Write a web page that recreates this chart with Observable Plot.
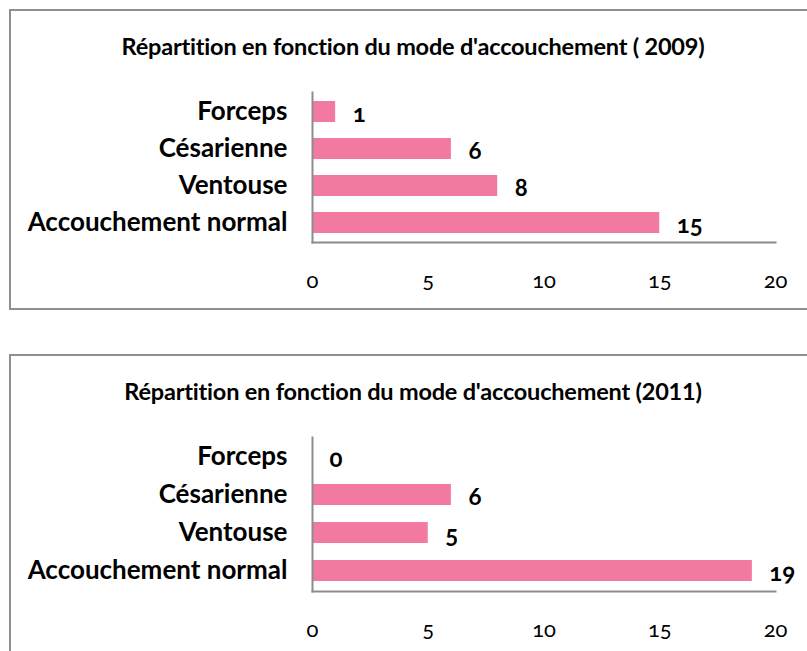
<!DOCTYPE html>
<html>
<head>
<meta charset="utf-8">
<script src="https://cdn.jsdelivr.net/npm/d3@7"></script>
<script src="https://cdn.jsdelivr.net/npm/@observablehq/plot@0.6"></script>
<style>
  html, body { margin: 0; padding: 0; background: #fff; }
  #page { position: relative; width: 807px; height: 651px; overflow: hidden; background: #fff; font-family: Lato, "Open Sans", sans-serif; }
  .box { position: absolute; left: 9px; width: 810px; border: 2px solid #8f8f8f; border-right: none; box-sizing: border-box; }
  .title { position: absolute; white-space: nowrap; transform: translateX(-50%); font-weight: bold; font-size: 23.5px; line-height: 24px; color: #000; letter-spacing: -0.2px; }
  .chart { position: absolute; left: 0; }
</style>
</head>
<body>
<div id="page"></div>
<script>
const categories = ["Forceps", "Césarienne", "Ventouse", "Accouchement normal"];
const values2009 = [1, 6, 8, 15];
const values2011 = [0, 6, 5, 19];
const xTicks = [0, 5, 10, 15, 20];
const titles = [
  "Répartition en fonction du mode d'accouchement ( 2009)",
  "Répartition en fonction du mode d'accouchement (2011)"
];

const barColor = "#f279a0";
const axisColor = "#8c8c8c";

const charts = [
  {title: titles[0], values: values2009, boxTop: 9, boxHeight: 301, titleTop: 34, svgTop: 60, height: 250, marginTop: 32, marginBottom: 68},
  {title: titles[1], values: values2011, boxTop: 354, boxHeight: 310, titleTop: 379, svgTop: 405, height: 246, marginTop: 32, marginBottom: 60}
];

const page = document.getElementById("page");

for (const c of charts) {
  const box = document.createElement("div");
  box.className = "box";
  box.style.top = c.boxTop + "px";
  box.style.height = c.boxHeight + "px";
  page.appendChild(box);

  const t = document.createElement("div");
  t.className = "title";
  t.style.left = "413px";
  t.style.top = c.titleTop + "px";
  t.textContent = c.title;
  page.appendChild(t);

  const data = categories.map((k, i) => ({category: k, value: c.values[i]}));

  const svg = Plot.plot({
    width: 807,
    height: c.height,
    marginLeft: 312,
    marginRight: 32,
    marginTop: c.marginTop,
    marginBottom: c.marginBottom,
    style: {fontFamily: "Lato, 'Open Sans', sans-serif", color: "#000", background: "transparent"},
    x: {domain: [0, 20]},
    y: {domain: categories, paddingInner: 0.44, paddingOuter: 0.2},
    marks: [
      Plot.barX(data, {x: "value", y: "category", fill: barColor}),
      Plot.frame({anchor: "left", stroke: axisColor, strokeWidth: 2}),
      Plot.frame({anchor: "bottom", stroke: axisColor, strokeWidth: 2}),
      Plot.axisY({tickSize: 0, tickPadding: 25, fontSize: 26, fontWeight: "bold", label: null, fill: "#000"}),
      Plot.axisX({ticks: xTicks, tickSize: 0, tickPadding: 30, fontSize: 22, label: null, tickFormat: d => String(d), fill: "#000", fontVariant: "oldstyle-nums"}),
      Plot.text(data, {x: "value", y: "category", text: d => String(d.value), dx: 17, dy: 2, textAnchor: "start", fontSize: 24, fontWeight: "bold", fill: "#000", fontVariant: "oldstyle-nums"})
    ]
  });
  svg.classList.add("chart");
  svg.style.top = c.svgTop + "px";
  page.appendChild(svg);
}
</script>
</body>
</html>
